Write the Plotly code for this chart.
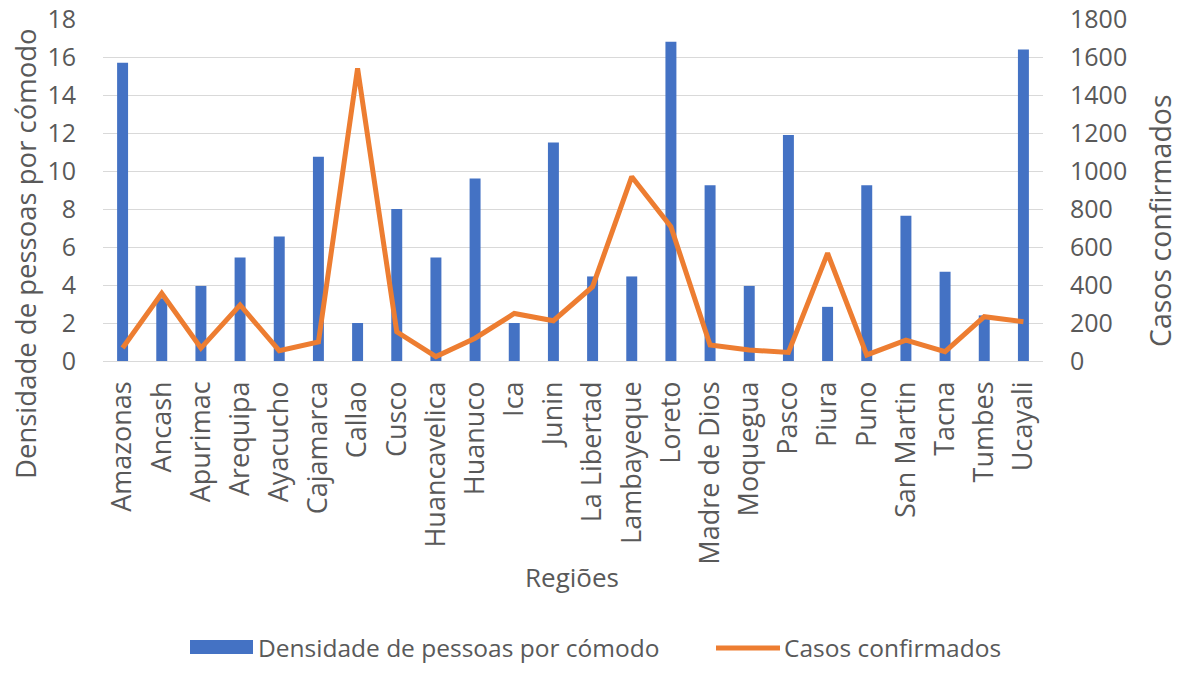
import plotly.graph_objects as go

regioes = ["Amazonas", "Ancash", "Apurimac", "Arequipa", "Ayacucho", "Cajamarca", "Callao",
           "Cusco", "Huancavelica", "Huanuco", "Ica", "Junin", "La Libertad", "Lambayeque",
           "Loreto", "Madre de Dios", "Moquegua", "Pasco", "Piura", "Puno", "San Martin",
           "Tacna", "Tumbes", "Ucayali"]
densidade = [15.7, 3.3, 3.95, 5.45, 6.55, 10.75, 2.0, 8.0, 5.45, 9.6, 2.0, 11.5, 4.45, 4.45,
             16.8, 9.25, 3.95, 11.9, 2.85, 9.25, 7.65, 4.7, 2.4, 16.4]
casos = [68, 356, 68, 295, 54, 100, 1540, 154, 23, 120, 250, 212, 391, 970,
         707, 84, 58, 45, 567, 32, 110, 49, 233, 207]

left_ticks = [0, 2, 4, 6, 8, 10, 12, 14, 16, 18]
right_ticks = [0, 200, 400, 600, 800, 1000, 1200, 1400, 1600, 1800]

nome_barra = "Densidade de pessoas por cómodo"
nome_linha = "Casos confirmados"

FONT = "Open Sans"
TXT = "#595959"
BLUE = "#4472C4"
ORANGE = "#ED7D31"

W, H = 1180, 673
L, R, T, B = 103, 137, 19, 312
PW, PH = W - L - R, H - T - B


def px(x):
    return (x - L) / PW


def py(y):
    return (H - B - y) / PH


fig = go.Figure()
fig.add_trace(go.Bar(x=regioes, y=densidade, name=nome_barra,
                     marker=dict(color=BLUE, line=dict(width=0)), yaxis="y", showlegend=False))
fig.add_trace(go.Scatter(x=regioes, y=casos, name=nome_linha, mode="lines",
                         line=dict(color=ORANGE, width=5), yaxis="y2", showlegend=False))

shapes = [
    dict(type="rect", xref="paper", yref="paper", x0=px(190), x1=px(253), y0=py(654), y1=py(640),
         fillcolor=BLUE, line=dict(width=0)),
    dict(type="line", xref="paper", yref="paper", x0=px(716), x1=px(780), y0=py(648), y1=py(648),
         line=dict(color=ORANGE, width=5)),
]

annotations = [
    dict(text=nome_barra, xref="paper", yref="paper", x=px(256), y=py(647), xanchor="left",
         yanchor="middle", showarrow=False, font=dict(size=24.5, color=TXT)),
    dict(text=nome_linha, xref="paper", yref="paper", x=px(782), y=py(647), xanchor="left",
         yanchor="middle", showarrow=False, font=dict(size=24.5, color=TXT)),
    dict(text="Regiões", xref="paper", yref="paper", x=px(572), y=py(577), xanchor="center",
         yanchor="middle", showarrow=False, font=dict(size=26, color=TXT)),
    dict(text="Densidade de pessoas por cómodo", xref="paper", yref="paper", x=px(25), y=py(254),
         xanchor="center", yanchor="middle", textangle=-90, showarrow=False, borderpad=0,
         font=dict(size=27.5, color=TXT)),
    dict(text="Casos confirmados", xref="paper", yref="paper", x=px(1160), y=py(221),
         xanchor="center", yanchor="middle", textangle=-90, showarrow=False, borderpad=0,
         font=dict(size=28.5, color=TXT)),
]

fig.update_layout(
    width=W, height=H,
    margin=dict(l=L, r=R, t=T, b=B),
    paper_bgcolor="white", plot_bgcolor="white",
    font=dict(family=FONT, size=25, color=TXT),
    bargap=0.72,
    showlegend=False,
    shapes=shapes,
    annotations=annotations,
    xaxis=dict(tickangle=-90, showgrid=False, showline=False, ticks="", automargin=False,
               tickfont=dict(size=27, color=TXT), ticklabelstandoff=14),
    yaxis=dict(range=[0, 18], tickvals=left_ticks, showgrid=True, gridcolor="#d9d9d9",
               gridwidth=1.2, zeroline=True, zerolinecolor="#d9d9d9", zerolinewidth=1.2,
               showline=False, ticks="", automargin=False, ticklabelstandoff=26,
               ticklabeloverflow="allow", tickfont=dict(size=25, color=TXT)),
    yaxis2=dict(range=[0, 1800], tickvals=right_ticks, overlaying="y", side="right",
                showgrid=False, zeroline=False, showline=False, ticks="", automargin=False,
                ticklabelstandoff=26, ticklabeloverflow="allow",
                tickfont=dict(size=25, color=TXT)),
)

fig.write_html("out.html", config={"displayModeBar": False},
               post_script="document.body.style.margin='0px';document.body.style.overflow='hidden';")
